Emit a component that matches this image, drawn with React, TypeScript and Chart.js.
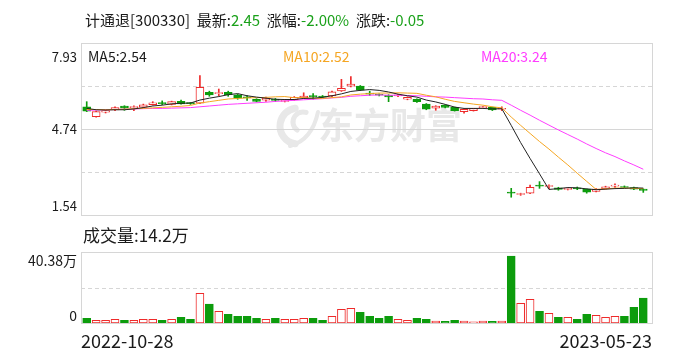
import React, { useEffect, useRef } from "react";
import { Chart, registerables } from "chart.js";

Chart.register(...registerables);

// ---------------- data ----------------
const titleName = "计通退[300330]";
const titleFields = ["最新:", "涨幅:", "涨跌:"];
const titleValues = ["2.45", "-2.00%", "-0.05"];
const maNames = ["MA5", "MA10", "MA20"];
const maLatest = ["2.54", "2.52", "3.24"];
const priceTickValues = [7.93, 4.74, 1.54];
const priceTickLabels = ["7.93", "4.74", "1.54"];
const volumeTickValues = [40.38, 0];
const volumeTickLabels = ["40.38万", "0"];
const volumeTitle = "成交量:14.2万";
const dateLabels = ["2022-10-28", "2023-05-23"];
const watermark = "东方财富";

const priceMin = 1.54;
const priceMax = 7.93;
const volumeMax = 40.38;

const opens = [5.56, 5.19, 5.36, 5.44, 5.59, 5.53, 5.55, 5.64, 5.70, 5.65,
  5.76, 5.70, 5.69, 6.10, 6.05, 6.10, 6.00, 5.91, 5.84, 5.81,
  5.82, 5.76, 5.82, 5.89, 5.96, 5.95, 5.96, 6.15, 6.33, 6.33,
  6.06, 6.01, 5.99, 5.96, 5.84, 5.84, 5.66, 5.51, 5.62, 5.54,
  5.38, 5.42, 5.53, 5.54, 5.47, 2.38, 2.30, 2.35, 2.63, 2.60,
  2.55, 2.49, 2.53, 2.50, 2.42, 2.51, 2.61, 2.60, 2.56, 2.50];
const highs = [5.75, 5.40, 5.45, 5.56, 5.60, 5.60, 5.66, 5.75, 5.78, 5.77,
  5.81, 5.72, 6.72, 6.14, 6.22, 6.14, 6.03, 5.98, 5.86, 5.92,
  5.87, 5.83, 5.94, 6.08, 6.05, 5.98, 6.14, 6.58, 6.68, 6.35,
  6.14, 6.04, 6.01, 6.02, 5.93, 5.86, 5.68, 5.60, 5.63, 5.55,
  5.48, 5.50, 5.58, 5.55, 5.56, 2.53, 2.35, 2.65, 2.78, 2.66,
  2.57, 2.55, 2.58, 2.51, 2.52, 2.61, 2.70, 2.62, 2.58, 2.51];
const lows = [5.38, 5.17, 5.33, 5.42, 5.43, 5.42, 5.52, 5.62, 5.64, 5.63,
  5.66, 5.65, 5.68, 5.95, 5.97, 5.95, 5.84, 5.80, 5.74, 5.76,
  5.76, 5.74, 5.80, 5.87, 5.84, 5.90, 5.94, 6.13, 6.30, 6.16,
  5.98, 5.96, 5.75, 5.94, 5.82, 5.72, 5.45, 5.43, 5.52, 5.40,
  5.32, 5.40, 5.51, 5.42, 5.42, 2.20, 2.27, 2.33, 2.53, 2.52,
  2.46, 2.47, 2.48, 2.35, 2.40, 2.50, 2.56, 2.55, 2.48, 2.38];
const closes = [5.40, 5.38, 5.42, 5.53, 5.51, 5.56, 5.63, 5.71, 5.68, 5.75,
  5.67, 5.68, 6.28, 6.00, 6.07, 6.01, 5.88, 5.89, 5.76, 5.88,
  5.80, 5.80, 5.91, 5.96, 5.94, 5.92, 6.12, 6.25, 6.40, 6.18,
  6.03, 5.99, 5.93, 6.00, 5.91, 5.75, 5.47, 5.59, 5.54, 5.42,
  5.47, 5.49, 5.56, 5.44, 5.50, 2.35, 2.32, 2.57, 2.61, 2.61,
  2.49, 2.53, 2.51, 2.39, 2.50, 2.59, 2.62, 2.56, 2.50, 2.45];
// volume in 万
const volumes = [2.7, 1.5, 1.5, 2.1, 1.5, 1.5, 2.1, 2.1, 1.5, 2.1,
  3.2, 2.1, 16.9, 10.8, 6.6, 4.9, 3.8, 3.8, 2.7, 2.1,
  2.7, 2.1, 2.1, 2.7, 2.7, 1.5, 3.8, 7.8, 8.3, 6.1,
  3.8, 2.7, 3.8, 2.1, 1.5, 2.7, 2.1, 1.1, 0.9, 1.5,
  1.1, 0.6, 1.1, 0.9, 1.1, 38.0, 11.2, 13.5, 6.6, 5.5,
  3.2, 3.2, 2.1, 4.9, 4.4, 3.2, 3.8, 3.8, 8.9, 14.2];
const ma5 = [5.50, 5.45, 5.44, 5.45, 5.45, 5.48, 5.53, 5.59, 5.62, 5.67,
  5.69, 5.70, 5.81, 5.88, 5.94, 6.01, 6.05, 5.97, 5.92, 5.88,
  5.84, 5.83, 5.83, 5.87, 5.88, 5.91, 5.97, 6.04, 6.13, 6.17,
  6.20, 6.17, 6.11, 6.03, 5.97, 5.92, 5.81, 5.74, 5.65, 5.55,
  5.50, 5.50, 5.50, 5.48, 5.49, 4.87, 4.23, 3.64, 3.07, 2.49,
  2.52, 2.56, 2.55, 2.51, 2.48, 2.50, 2.52, 2.53, 2.55, 2.54];
const ma10 = [5.46, 5.46, 5.45, 5.46, 5.47, 5.49, 5.50, 5.52, 5.54, 5.56,
  5.58, 5.61, 5.70, 5.75, 5.80, 5.85, 5.87, 5.89, 5.90, 5.91,
  5.93, 5.94, 5.90, 5.90, 5.88, 5.87, 5.90, 5.93, 6.00, 6.03,
  6.05, 6.07, 6.07, 6.08, 6.07, 6.06, 5.99, 5.93, 5.84, 5.76,
  5.71, 5.66, 5.62, 5.56, 5.52, 5.18, 4.87, 4.57, 4.27, 3.99,
  3.69, 3.40, 3.09, 2.79, 2.49, 2.51, 2.54, 2.54, 2.53, 2.52];
const ma20 = [5.43, 5.44, 5.45, 5.46, 5.47, 5.48, 5.49, 5.50, 5.50, 5.51,
  5.52, 5.53, 5.56, 5.59, 5.62, 5.65, 5.67, 5.69, 5.71, 5.73,
  5.76, 5.78, 5.80, 5.82, 5.84, 5.86, 5.89, 5.91, 5.95, 5.97,
  5.99, 6.00, 5.99, 5.99, 5.98, 5.97, 5.95, 5.93, 5.92, 5.90,
  5.88, 5.86, 5.85, 5.82, 5.80, 5.62, 5.43, 5.25, 5.06, 4.88,
  4.70, 4.53, 4.36, 4.18, 4.01, 3.85, 3.71, 3.55, 3.40, 3.24];

// ---------------- styles ----------------
const FONT = "'Noto Sans CJK SC', 'Microsoft YaHei', sans-serif";
const RED = "#ee2a2a";
const GREEN = "#0c9c0c";
const TEXT_GREEN = "#1aa11a";
const DARK = "#1a1a1a";
const GRID = "#d6d6d6";
const WATERMARK = "#e8e8e8";
const MA_COLORS = ["#222222", "#f5a623", "#ff3cff"];

function hLine(ctx: CanvasRenderingContext2D, x1: number, x2: number, y: number) {
  ctx.beginPath();
  ctx.moveTo(x1, y);
  ctx.lineTo(x2, y);
  ctx.stroke();
}

const pricePlugin = {
  id: "priceDecor",
  beforeDatasetsDraw(chart: any) {
    const { ctx, chartArea: a, scales } = chart;
    const y = scales.y;
    const L = a.left - 1;
    const R = a.right + 4;
    ctx.save();
    // watermark logo (swirl) + text
    ctx.strokeStyle = WATERMARK;
    ctx.lineCap = "round";
    ctx.lineWidth = 7;
    ctx.beginPath();
    ctx.arc(298, 126, 18, Math.PI * 0.55, Math.PI * 1.45);
    ctx.stroke();
    ctx.lineWidth = 5;
    ctx.beginPath();
    ctx.arc(303, 122, 10, Math.PI * 0.7, Math.PI * 1.6);
    ctx.stroke();
    ctx.lineWidth = 4;
    ctx.beginPath();
    ctx.moveTo(290, 146);
    ctx.quadraticCurveTo(312, 140, 318, 112);
    ctx.stroke();
    ctx.fillStyle = WATERMARK;
    ctx.font = `bold 36px ${FONT}`;
    ctx.textBaseline = "middle";
    ctx.textAlign = "left";
    ctx.fillText(watermark, 318, 125);
    // grid
    ctx.lineCap = "butt";
    ctx.strokeStyle = GRID;
    ctx.lineWidth = 1;
    const q = (priceMax - priceMin) / 4;
    ctx.setLineDash([4, 3]);
    [priceMin + q, priceMin + 3 * q].forEach((v) => {
      hLine(ctx, L, R, Math.round(y.getPixelForValue(v)) + 0.5);
    });
    ctx.setLineDash([]);
    hLine(ctx, L, R, Math.round(y.getPixelForValue(priceMin + 2 * q)) + 0.5);
    ctx.strokeRect(L + 0.5, Math.round(a.top) + 0.5, R - L, Math.round(a.bottom - a.top));
    ctx.restore();
  },
  afterDraw(chart: any) {
    const { ctx, scales } = chart;
    const y = scales.y;
    ctx.save();
    ctx.textBaseline = "middle";
    // title
    ctx.font = `15px ${FONT}`;
    let x = 85;
    const seg = (t: string, c: string) => {
      ctx.fillStyle = c;
      ctx.fillText(t, x, 20);
      x += ctx.measureText(t).width;
    };
    ctx.textAlign = "left";
    seg(titleName, DARK);
    titleFields.forEach((f, i) => {
      seg("  " + f, DARK);
      seg(titleValues[i], TEXT_GREEN);
    });
    // MA labels
    ctx.font = `14px ${FONT}`;
    const maX = [88, 283, 481];
    maNames.forEach((n, i) => {
      ctx.fillStyle = i === 0 ? DARK : MA_COLORS[i];
      ctx.fillText(`${n}:${maLatest[i]}`, maX[i], 57);
    });
    // y tick labels
    ctx.font = `13px ${FONT}`;
    ctx.textAlign = "right";
    ctx.fillStyle = DARK;
    priceTickValues.forEach((v, i) => {
      let py = y.getPixelForValue(v);
      if (i === 0) py += 14;
      if (i === priceTickValues.length - 1) py -= 9;
      ctx.fillText(priceTickLabels[i], 77, py);
    });
    ctx.restore();
  },
};

const volumePlugin = {
  id: "volumeDecor",
  beforeDatasetsDraw(chart: any) {
    const { ctx, chartArea: a, scales } = chart;
    const y = scales.y;
    const L = a.left - 1;
    const R = a.right + 4;
    ctx.save();
    ctx.strokeStyle = GRID;
    ctx.lineWidth = 1;
    ctx.setLineDash([4, 3]);
    hLine(ctx, L, R, Math.round(y.getPixelForValue(volumeMax / 2)) + 0.5);
    ctx.setLineDash([]);
    ctx.strokeRect(L + 0.5, Math.round(a.top) + 0.5, R - L, Math.round(a.bottom - a.top));
    ctx.restore();
  },
  afterDraw(chart: any) {
    const { ctx, chartArea: a, scales } = chart;
    const y = scales.y;
    const L = a.left - 1;
    const R = a.right + 4;
    ctx.save();
    ctx.textBaseline = "middle";
    ctx.fillStyle = DARK;
    ctx.font = `17px ${FONT}`;
    ctx.textAlign = "left";
    ctx.fillText(volumeTitle, 83, 236);
    ctx.font = `14px ${FONT}`;
    ctx.textAlign = "right";
    volumeTickValues.forEach((v, i) => {
      let py = y.getPixelForValue(v);
      if (i === 0) py += 9;
      else py -= 7;
      ctx.fillText(volumeTickLabels[i], 77, py);
    });
    ctx.font = `18px ${FONT}`;
    ctx.textAlign = "left";
    ctx.fillText(dateLabels[0], L, 341);
    ctx.textAlign = "right";
    ctx.fillText(dateLabels[1], R, 341);
    ctx.restore();
  },
};

export default function App() {
  const priceRef = useRef<HTMLCanvasElement>(null);
  const volRef = useRef<HTMLCanvasElement>(null);

  useEffect(() => {
    document.body.style.margin = "0";
    const labels = closes.map((_, i) => String(i + 1));
    const up = closes.map((c, i) => c >= opens[i]);
    const candleColor = up.map((u) => (u ? RED : GREEN));
    const fillColor = up.map((u) => (u ? "#ffffff" : GREEN));
    const bodies = opens.map((o, i) => [Math.min(o, closes[i]), Math.max(o, closes[i])]);
    const wicks = lows.map((l, i) => [l, highs[i]]);

    const lineDs = (data: number[], color: string) => ({
      type: "line",
      data,
      borderColor: color,
      borderWidth: 1,
      pointRadius: 0,
      tension: 0,
      fill: false,
      order: 0,
    });

    const common = {
      responsive: false,
      maintainAspectRatio: false,
      animation: false,
      events: [],
      plugins: { legend: { display: false }, tooltip: { enabled: false }, title: { display: false } },
    };

    const priceChart = new Chart(priceRef.current as HTMLCanvasElement, {
      type: "bar",
      data: {
        labels,
        datasets: [
          lineDs(ma5, MA_COLORS[0]),
          lineDs(ma10, MA_COLORS[1]),
          lineDs(ma20, MA_COLORS[2]),
          {
            type: "bar",
            data: bodies,
            backgroundColor: fillColor,
            borderColor: candleColor,
            borderWidth: 1,
            borderSkipped: false,
            barThickness: 8,
            grouped: false,
            minBarLength: 1,
            order: 1,
          },
          {
            type: "bar",
            data: wicks,
            backgroundColor: candleColor,
            borderWidth: 0,
            barThickness: 1,
            grouped: false,
            order: 2,
          },
        ],
      } as any,
      options: {
        ...common,
        layout: { padding: { left: 82, right: 40, top: 43, bottom: 145 } },
        scales: {
          x: { display: false, offset: true, grid: { display: false } },
          y: { display: false, min: priceMin, max: priceMax },
        },
      } as any,
      plugins: [pricePlugin],
    });

    const volChart = new Chart(volRef.current as HTMLCanvasElement, {
      type: "bar",
      data: {
        labels,
        datasets: [
          {
            data: volumes,
            backgroundColor: fillColor,
            borderColor: candleColor,
            borderWidth: 1,
            borderSkipped: false,
            barThickness: 8,
          },
        ],
      } as any,
      options: {
        ...common,
        layout: { padding: { left: 82, right: 40, top: 252, bottom: 37 } },
        scales: {
          x: { display: false, offset: true, grid: { display: false } },
          y: { display: false, min: 0, max: volumeMax },
        },
      } as any,
      plugins: [volumePlugin],
    });

    return () => {
      priceChart.destroy();
      volChart.destroy();
    };
  }, []);

  const cs: React.CSSProperties = { position: "absolute", left: 0, top: 0, width: 688, height: 360 };
  return (
    <div style={{ position: "relative", width: 688, height: 360, background: "#ffffff" }}>
      <canvas ref={priceRef} width={688} height={360} style={cs} />
      <canvas ref={volRef} width={688} height={360} style={cs} />
    </div>
  );
}
